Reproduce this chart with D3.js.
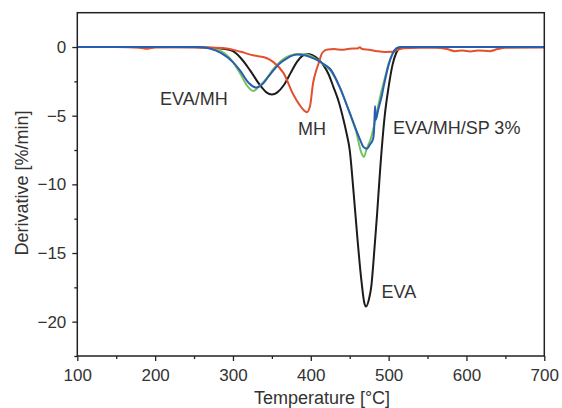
<!DOCTYPE html>
<html>
<head>
<meta charset="utf-8">
<script src="https://cdn.jsdelivr.net/npm/d3@7"></script>
<style>
  body { margin: 0; background: #fff; }
  text { font-family: "Liberation Sans", Arial, sans-serif; fill: #333; }
</style>
</head>
<body>
<div id="chart"></div>
<script>
// temperature ticks and curve data
var xTicks = [100, 200, 300, 400, 500, 600, 700];
var yTicks = [0, -5, -10, -15, -20];

var evaT = [100, 150, 200, 250, 270, 290, 300, 310, 322, 335, 343, 350, 357, 365, 374, 382, 390, 396, 402, 410, 416, 423, 429, 436, 442, 446, 450, 455, 460, 465, 469, 471, 475, 478, 480, 485, 489, 495, 500, 505, 510, 515, 530, 600, 700];
var evaV = [0, 0, 0, -0.02, -0.05, -0.15, -0.3, -0.8, -1.7, -2.8, -3.3, -3.45, -3.3, -2.8, -1.9, -1.1, -0.6, -0.5, -0.6, -0.9, -1.3, -2.0, -2.9, -4.0, -5.3, -6.3, -7.5, -10.6, -14.0, -17.0, -18.7, -18.9, -18.3, -17.3, -16.0, -12.3, -9.0, -5.0, -2.9, -1.3, -0.4, -0.05, 0, 0, 0];

var evaMhT = [100, 200, 260, 275, 290, 300, 310, 318, 326, 333, 343, 352, 362, 372, 385, 395, 405, 415, 425, 437, 450, 458, 465, 468, 472, 478, 484, 490, 495, 500, 505, 510, 515, 600, 700];
var evaMhV = [0, 0, 0, -0.1, -0.5, -1.1, -2.0, -2.8, -3.2, -2.9, -2.3, -1.6, -1.0, -0.65, -0.5, -0.55, -0.8, -1.2, -1.7, -2.9, -4.8, -6.1, -7.7, -8.0, -7.4, -6.5, -5.0, -3.4, -2.3, -1.2, -0.5, -0.1, 0, 0, 0];

var spT = [100, 200, 255, 270, 285, 300, 309, 320, 330, 338, 345, 352, 360, 370, 382, 392, 400, 410, 418, 425, 437, 450, 463, 468, 472, 476, 480, 481.5, 482.5, 483.5, 486.5, 491, 495, 500, 505, 510, 515, 600, 700];
var spV = [0, 0, 0, -0.1, -0.45, -1.1, -1.7, -2.6, -2.95, -2.7, -2.2, -1.7, -1.2, -0.8, -0.55, -0.6, -0.75, -1.0, -1.3, -1.6, -2.9, -4.8, -6.7, -7.3, -7.4, -7.1, -6.7, -5.8, -4.3, -5.3, -4.6, -3.6, -2.5, -1.3, -0.5, -0.1, 0, 0, 0];

var mhT = [100, 150, 180, 190, 200, 250, 270, 292, 310, 326, 343, 352, 365, 377, 386, 391, 395, 399, 403, 407, 410, 414, 418, 422, 430, 440, 450, 460, 463, 466, 475, 485, 495, 505, 512, 520, 540, 560, 575, 585, 595, 605, 615, 630, 640, 650, 700];
var mhV = [0, 0, -0.05, -0.12, -0.03, -0.02, -0.05, -0.1, -0.35, -0.6, -0.8, -1.1, -1.9, -3.4, -4.25, -4.6, -4.75, -4.3, -2.6, -1.7, -1.2, -0.5, -0.25, -0.18, -0.15, -0.2, -0.12, -0.1, -0.02, -0.15, -0.2, -0.3, -0.36, -0.35, -0.2, -0.08, -0.05, -0.05, -0.15, -0.3, -0.25, -0.32, -0.25, -0.3, -0.15, -0.05, -0.03];

var width = 562, height = 408;
var margin = {left: 77.3, right: 17.7, top: 12.7, bottom: 52};

var svg = d3.select("#chart").append("svg")
  .attr("width", width)
  .attr("height", height);

var x = d3.scaleLinear().domain([100, 700]).range([margin.left, width - margin.right]);
var y = d3.scaleLinear().domain([-22.5, 2.5]).range([height - margin.bottom, margin.top]);

function zip(ts, vs) {
  return ts.map(function(t, i) { return [t, vs[i]]; });
}

var line = d3.line()
  .x(function(d) { return x(d[0]); })
  .y(function(d) { return y(d[1]); })
  .curve(d3.curveMonotoneX);

var series = [
  {data: zip(evaT, evaV), color: "#1c1c1c"},
  {data: zip(evaMhT, evaMhV), color: "#76c25e"},
  {data: zip(mhT, mhV), color: "#e4502e"},
  {data: zip(spT, spV), color: "#2a5db2"}
];

svg.selectAll("path.curve")
  .data(series)
  .enter()
  .append("path")
  .attr("class", "curve")
  .attr("fill", "none")
  .attr("stroke", function(d) { return d.color; })
  .attr("stroke-width", 2)
  .attr("stroke-linejoin", "round")
  .attr("d", function(d) { return line(d.data); });

// axes
var xAxis = d3.axisBottom(x).tickValues(xTicks).tickSize(5).tickPadding(8).tickFormat(d3.format("d"));
var xMinor = d3.axisBottom(x).tickValues([150, 250, 350, 450, 550, 650]).tickSize(3).tickFormat("");
var yAxis = d3.axisLeft(y).tickValues(yTicks).tickSize(5).tickPadding(6);
var yMinor = d3.axisLeft(y).tickValues([-2.5, -7.5, -12.5, -17.5, -22.5]).tickSize(3).tickFormat("");

function styleAxis(g) {
  g.select(".domain").remove();
  g.selectAll("line").attr("stroke", "#222").attr("stroke-width", 1.3);
  g.selectAll("text").attr("font-size", 17).attr("fill", "#333")
    .style("font-family", "'Liberation Sans', Arial, sans-serif");
}

svg.append("g").attr("transform", "translate(0," + y.range()[0] + ")").call(xAxis).call(styleAxis);
svg.append("g").attr("transform", "translate(0," + y.range()[0] + ")").call(xMinor).call(styleAxis);
svg.append("g").attr("transform", "translate(" + x.range()[0] + ",0)").call(yAxis).call(styleAxis);
svg.append("g").attr("transform", "translate(" + x.range()[0] + ",0)").call(yMinor).call(styleAxis);

// frame
svg.append("rect")
  .attr("x", x.range()[0])
  .attr("y", y.range()[1])
  .attr("width", x.range()[1] - x.range()[0])
  .attr("height", y.range()[0] - y.range()[1])
  .attr("fill", "none")
  .attr("stroke", "#222")
  .attr("stroke-width", 1.5);

// axis titles
svg.append("text")
  .attr("x", 322)
  .attr("y", 404)
  .attr("text-anchor", "middle")
  .attr("font-size", 18)
  .text("Temperature [°C]");

svg.append("text")
  .attr("transform", "translate(28,183) rotate(-90)")
  .attr("text-anchor", "middle")
  .attr("font-size", 18)
  .text("Derivative [%/min]");

// curve labels
var labels = [
  {text: "EVA/MH", t: 160, v: 105},
  {text: "MH", t: 298, v: 134.5},
  {text: "EVA/MH/SP 3%", t: 393, v: 133.5},
  {text: "EVA", t: 381.5, v: 298}
];
svg.selectAll("text.lbl")
  .data(labels)
  .enter()
  .append("text")
  .attr("class", "lbl")
  .attr("x", function(d) { return d.t; })
  .attr("y", function(d) { return d.v; })
  .attr("font-size", 18)
  .text(function(d) { return d.text; });
</script>
</body>
</html>
